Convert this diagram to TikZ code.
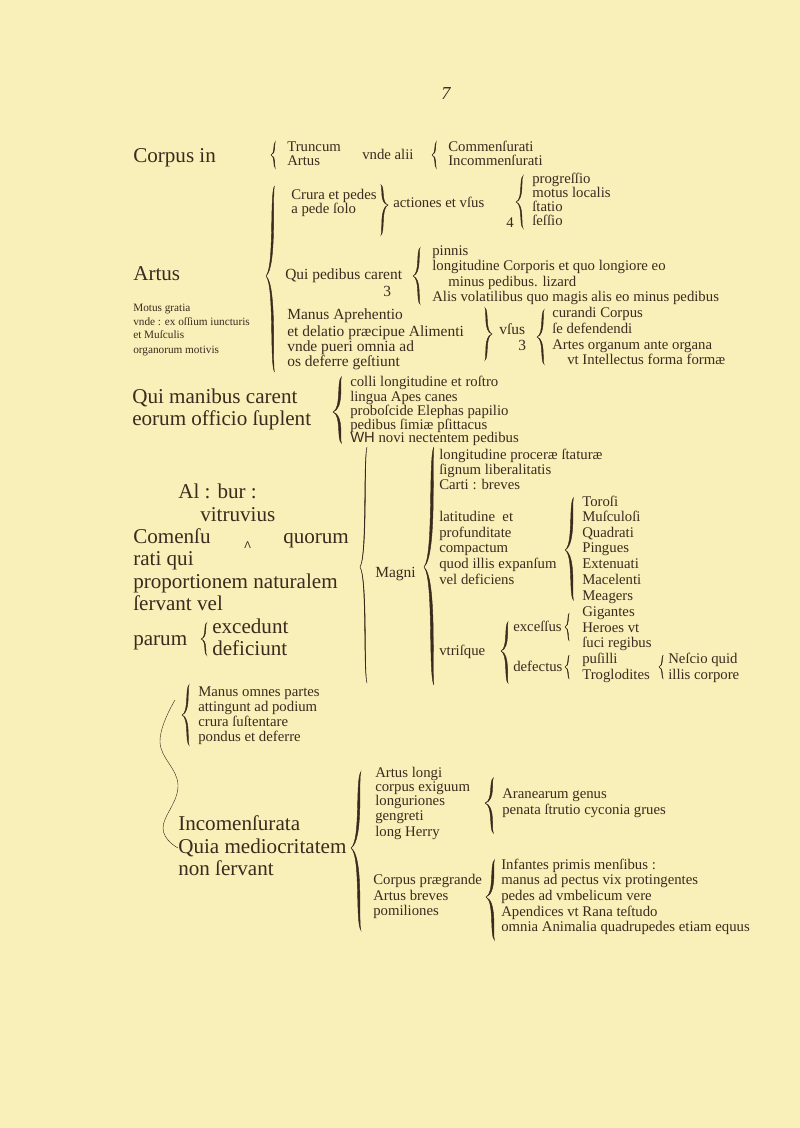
\documentclass[tikz,border=0pt]{standalone}
\usepackage{fontspec}
\setmainfont{Liberation Serif}
\newfontfamily\whfont{Liberation Sans}
\definecolor{paper}{HTML}{F8EFB9}
\definecolor{ink}{HTML}{3B2B1E}
\usetikzlibrary{positioning}

\tikzset{
  pics/lbr/.style n args={4}{code={
    % #1 upper reach, #2 lower reach, #3 width, #4 stroke weight
    \filldraw[ink, line width=0.3pt]
      (0,0) .. controls (1.4*#3,-0.1*#1) and (0.6*#3,-0.9*#1) .. (1.4*#3,-#1)
            .. controls (0.6*#3+#4,-0.9*#1) and (1.4*#3+#4,-0.1*#1) .. (0,0);
    \filldraw[ink, line width=0.3pt]
      (0,0) .. controls (1.4*#3,0.1*#2) and (0.6*#3,0.9*#2) .. (1.4*#3,#2)
            .. controls (0.6*#3+#4,0.9*#2) and (1.4*#3+#4,0.1*#2) .. (0,0);
  }}
}

\begin{document}
\begin{tikzpicture}[
    x=0.025cm, y=-0.025cm,
    txt/.style={anchor=base west, inner sep=0pt, text=ink},
    bigtext/.style={txt, font=\fontsize{15}{16}\selectfont},
    midtext/.style={txt, font=\fontsize{11}{12}\selectfont},
    smalltext/.style={txt, font=\fontsize{10.5}{11}\selectfont},
    tinytext/.style={txt, font=\fontsize{8}{9}\selectfont}
  ]
  \fill[paper] (0,0) rectangle (800,1128);
  \node[bigtext, font=\fontsize{13}{14}\selectfont\itshape] (pg) at (441,100) {7};

  % Corpus in
  \node[bigtext] (corpus) at (133,163) {Corpus in};
  \pic at (271,155) {lbr={13}{13}{3}{1.2}};
  \node[smalltext] (truncum) at (287,152) {Truncum};
  \node[smalltext] (artus1) at (287,166) {Artus};
  \node[smalltext] (vnde) at (362,160) {vnde alii};
  \pic at (432,155) {lbr={13}{13}{3}{1.2}};
  \node[smalltext] (comm) at (448,152) {Commenſurati};
  \node[smalltext] (incomm) at (448,166) {Incommenſurati};

  \node[smalltext] (crura) at (291,200) {Crura et pedes};
  \node[smalltext] (pede) at (291,214) {a pede ſolo};
  \pic[xscale=-1] at (388,205) {lbr={20}{30}{5}{2}};
  \node[smalltext] (actio) at (393,208) {actiones et vſus};
  \node[smalltext] (four) at (506,228) {4};
  \pic at (516,202) {lbr={26}{26}{5}{1.6}};
  \node[smalltext] (prog) at (532,184) {progreſſio};
  \node[smalltext] (motus) at (532,198) {motus localis};
  \node[smalltext] (statio) at (532,212) {ſtatio};
  \node[smalltext] (sessio) at (532,226) {ſeſſio};

  % Artus
  \pic at (266,276) {lbr={90}{96}{6}{2.6}};
  \node[bigtext] (artus2) at (133,281) {Artus};
  \node[tinytext] (motusg) at (133,311) {Motus gratia};
  \node[tinytext] (vndeex) at (133,325) {vnde : ex oſſium iuncturis};
  \node[tinytext] (musc) at (133,339) {et Muſculis};
  \node[tinytext] (organ) at (133,353) {organorum motivis};

  \node[midtext] (quiped) at (285,280) {Qui pedibus carent};
  \node[midtext] (three1) at (383,297) {3};
  \pic at (413,276) {lbr={28}{28}{5}{2}};
  \node[smalltext] (pinnis) at (432,256) {pinnis};
  \node[smalltext] (longit) at (432,271) {longitudine Corporis et quo longiore eo};
  \node[smalltext] (minus) at (448,286) {minus pedibus. lizard};
  \node[smalltext] (alis) at (432,302) {Alis volatilibus quo magis alis eo minus pedibus};

  \node[midtext] (manus1) at (287,320) {Manus Aprehentio};
  \node[midtext] (delatio) at (287,336) {et delatio præcipue Alimenti};
  \node[midtext] (pueri) at (287,351) {vnde pueri omnia ad};
  \node[midtext] (deferre) at (287,366) {os deferre geſtiunt};
  \pic[xscale=-1] at (492,334) {lbr={26}{26}{5}{2}};
  \node[midtext] (vsus) at (499,334) {vſus};
  \node[midtext] (three2) at (518,350) {3};
  \pic at (537,337) {lbr={27}{27}{5}{2}};
  \node[smalltext] (curandi) at (552,318) {curandi Corpus};
  \node[smalltext] (defend) at (552,333) {ſe defendendi};
  \node[smalltext] (artes) at (552,349) {Artes organum ante organa};
  \node[smalltext] (intell) at (567,364) {vt Intellectus forma formæ};

  % Qui manibus carent
  \node[bigtext] (quiman) at (132,403) {Qui manibus carent};
  \node[bigtext] (eorum) at (132,425) {eorum officio ſuplent};
  \pic at (333,412) {lbr={35}{31}{6}{3}};
  \node[smalltext] (colli) at (350,386) {colli longitudine et roſtro};
  \node[smalltext] (lingua) at (350,401) {lingua Apes canes};
  \node[smalltext] (prob) at (350,415) {proboſcide Elephas papilio};
  \node[smalltext] (simiae) at (350,429) {pedibus ſimiæ pſittacus};
  \node[smalltext] (wh) at (350,442) {{\whfont WH} novi nectentem pedibus};

  % Al : bur :
  \node[bigtext] (albur) at (178,498) {Al : bur :};
  \node[bigtext] (vitr) at (200,521) {vitruvius};
  \node[bigtext] (comensu) at (133,543) {Comenſu};
  \node[txt, font=\whfont\fontsize{7}{8}\selectfont] (caret) at (244,548) {Λ};
  \node[bigtext] (quorum) at (283,543) {quorum};
  \node[bigtext] (ratiqui) at (133,565) {rati qui};
  \node[bigtext] (propo) at (133,588) {proportionem naturalem};
  \node[bigtext] (servant) at (133,610) {ſervant vel};
  \node[bigtext] (parum) at (133,645) {parum};
  \pic at (201,639) {lbr={16}{16}{4}{1.3}};
  \node[bigtext] (excedunt) at (212,633) {excedunt};
  \node[bigtext] (deficiunt) at (212,655) {deficiunt};

  \pic at (182,715) {lbr={30}{30}{5}{2}};
  \node[smalltext] (manus2) at (198,696) {Manus omnes partes};
  \node[smalltext] (atting) at (198,711) {attingunt ad podium};
  \node[smalltext] (crura2) at (198,726) {crura ſuſtentare};
  \node[smalltext] (pondus) at (198,741) {pondus et deferre};
  \draw[ink, line width=0.3pt] plot[smooth, tension=0.7] coordinates
    {(175,700) (160,742) (178,785) (163,828) (178,848)};

  \node[bigtext] (incom) at (178,830) {Incomenſurata};
  \node[bigtext] (quia) at (178,853) {Quia mediocritatem};
  \node[bigtext] (nonserv) at (178,875) {non ſervant};

  % Magni
  \pic at (360,567) {lbr={120}{116}{5}{0.8}};
  \node[midtext] (magni) at (375,577) {Magni};
  \pic at (424,567) {lbr={120}{118}{7}{3.5}};
  \node[smalltext] (proc) at (439,459) {longitudine proceræ ſtaturæ};
  \node[smalltext] (signum) at (439,474) {ſignum liberalitatis};
  \node[smalltext] (carti) at (439,489) {Carti : breves};
  \node[smalltext] (latit) at (439,521) {latitudine~ et};
  \node[smalltext] (profund) at (439,537) {profunditate};
  \node[smalltext] (compact) at (439,552) {compactum};
  \node[smalltext] (quod) at (439,568) {quod illis expanſum};
  \node[smalltext] (velde) at (439,584) {vel deficiens};
  \node[smalltext] (vtrisque) at (439,655) {vtriſque};
  \pic at (501,651) {lbr={29}{32}{5}{2.5}};
  \node[smalltext] (excess) at (513,631) {exceſſus};
  \node[smalltext] (defect) at (513,671) {defectus};
  \pic at (565,627) {lbr={14}{14}{3}{0.8}};
  \pic at (565,667) {lbr={12}{12}{3}{0.8}};
  \pic at (565,550) {lbr={52}{50}{6}{3}};
  \node[smalltext] (torosi) at (582,506) {Toroſi};
  \node[smalltext] (musculosi) at (582,521) {Muſculoſi};
  \node[smalltext] (quadrati) at (582,537) {Quadrati};
  \node[smalltext] (pingues) at (582,552) {Pingues};
  \node[smalltext] (extenuati) at (582,568) {Extenuati};
  \node[smalltext] (macelenti) at (582,584) {Macelenti};
  \node[smalltext] (meagers) at (582,600) {Meagers};
  \node[smalltext] (gigantes) at (582,616) {Gigantes};
  \node[smalltext] (heroes) at (582,632) {Heroes vt};
  \node[smalltext] (suci) at (582,647) {ſuci regibus};
  \node[smalltext] (pusilli) at (582,663) {puſilli};
  \node[smalltext] (troglo) at (582,679) {Troglodites};
  \pic at (659,667) {lbr={12}{12}{3}{0.8}};
  \node[smalltext] (nescio) at (668,663) {Neſcio quid};
  \node[smalltext] (illis) at (668,679) {illis corpore};

  % Incomenſurata
  \pic at (351,848) {lbr={76}{82}{7}{3}};
  \node[smalltext] (artlongi) at (375,777) {Artus longi};
  \node[smalltext] (exig) at (375,791) {corpus exiguum};
  \node[smalltext] (longur) at (375,805) {longuriones};
  \node[smalltext] (gengr) at (375,820) {gengreti};
  \node[smalltext] (herry) at (375,836) {long Herry};
  \pic at (485,803) {lbr={25}{30}{6}{2.5}};
  \node[smalltext] (aran) at (502,798) {Aranearum genus};
  \node[smalltext] (penata) at (502,814) {penata ſtrutio cyconia grues};
  \node[smalltext] (praeg) at (373,884) {Corpus prægrande};
  \node[smalltext] (breves) at (373,900) {Artus breves};
  \node[smalltext] (pomil) at (373,915) {pomiliones};
  \pic at (486,897) {lbr={37}{43}{6}{3}};
  \node[smalltext] (infant) at (501,869) {Infantes primis menſibus :};
  \node[smalltext] (pectus) at (501,884) {manus ad pectus vix protingentes};
  \node[smalltext] (umbel) at (501,900) {pedes ad vmbelicum vere};
  \node[smalltext] (apend) at (501,916) {Apendices vt Rana teſtudo};
  \node[smalltext] (omnia) at (501,931) {omnia Animalia quadrupedes etiam equus};
\end{tikzpicture}
\end{document}
